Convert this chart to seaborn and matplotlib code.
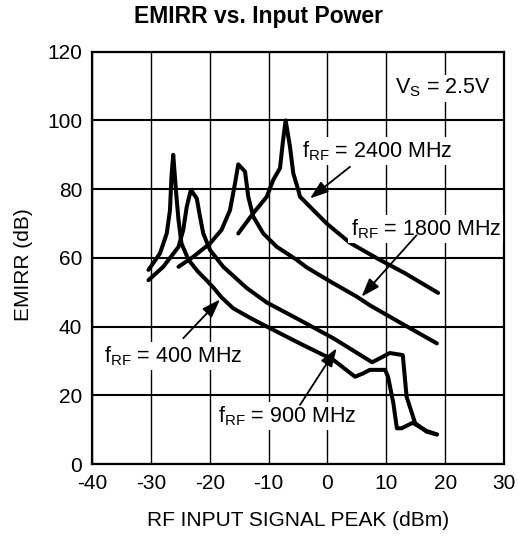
import matplotlib
matplotlib.use('Agg')
import matplotlib.pyplot as plt
import seaborn as sns
import pandas as pd

# ---------------- data ----------------
x_400 = [-30.4, -28.45, -27.3, -26.75, -26.5, -26.2, -25.7, -25.3, -24.8, -23.6, -22.0, -20.5,
         -19.4, -18.0, -16.0, -13.0, -10.3, -4.7, 1.0, 4.7, 6.1, 7.2, 9.8, 10.3, 11.2, 11.8,
         12.6, 14.5, 16.85, 18.6]
y_400 = [56.5, 61.3, 67.1, 73.9, 83.6, 90.0, 78.8, 71.0, 64.2, 59.4, 56.0, 53.4,
         51.4, 48.5, 45.3, 42.4, 40.0, 35.1, 30.3, 25.4, 26.4, 27.4, 27.4, 25.4, 17.7, 10.4,
         10.4, 12.0, 9.6, 8.6]

x_900 = [-30.4, -27.9, -25.3, -24.5, -23.9, -23.2, -22.2, -21.65, -21.1, -19.95, -17.7,
         -13.7, -10.3, -4.7, 1.0, 7.6, 10.6, 12.8, 13.45, 14.9, 16.85, 18.6]
y_900 = [53.5, 57.4, 63.2, 68.1, 74.9, 79.8, 77.3, 72.0, 67.1, 62.3, 57.4,
         51.2, 47.0, 41.9, 36.6, 29.6, 32.3, 31.7, 19.6, 11.9, 9.4, 8.6]

x_1800 = [-25.3, -22.8, -19.95, -18.0, -16.55, -15.7, -15.15, -14.0, -13.45, -12.6, -10.9,
          -8.6, -5.2, -3.5, 0.7, 5.0, 7.2, 12.3, 18.6]
y_1800 = [57.4, 60.3, 64.2, 68.1, 73.9, 81.7, 87.2, 85.1, 77.8, 72.0, 67.1,
          63.2, 59.4, 57.2, 52.9, 48.7, 46.2, 41.2, 35.1]

x_2400 = [-15.15, -12.6, -10.3, -9.2, -8.06, -7.6, -7.1, -6.36, -5.8, -4.95, -4.66, -2.4,
          -0.13, 3.8, 8.5, 13.2, 18.8]
y_2400 = [67.1, 73.0, 77.8, 82.7, 86.1, 93.3, 100.0, 92.3, 84.6, 79.7, 77.8, 73.9,
          70.0, 64.4, 59.8, 55.5, 49.8]

series_names = ['400 MHz', '900 MHz', '1800 MHz', '2400 MHz']
x_ticks = [-40, -30, -20, -10, 0, 10, 20, 30]
y_ticks = [0, 20, 40, 60, 80, 100, 120]

title = 'EMIRR vs. Input Power'
xlabel = 'RF INPUT SIGNAL PEAK (dBm)'
ylabel = 'EMIRR (dB)'

# ---------------- build table ----------------
frames = []
for name, xs, ys in zip(series_names, [x_400, x_900, x_1800, x_2400],
                        [y_400, y_900, y_1800, y_2400]):
    frames.append(pd.DataFrame({'x': xs, 'y': ys, 'series': name,
                                'order': range(len(xs))}))
df = pd.concat(frames, ignore_index=True)

# ---------------- style ----------------
sns.set_theme(style='white')
plt.rcParams['font.family'] = ['Liberation Sans', 'DejaVu Sans']
plt.rcParams['mathtext.fontset'] = 'custom'
plt.rcParams['mathtext.rm'] = 'Liberation Sans'
plt.rcParams['mathtext.it'] = 'Liberation Sans:italic'
plt.rcParams['mathtext.bf'] = 'Liberation Sans:bold'
plt.rcParams['axes.unicode_minus'] = False
plt.rcParams['text.color'] = 'black'
plt.rcParams['axes.labelcolor'] = 'black'
plt.rcParams['xtick.color'] = 'black'
plt.rcParams['ytick.color'] = 'black'

fig = plt.figure(figsize=(5.18, 5.38), dpi=100)
ax = fig.add_axes([92 / 518, 74 / 538, 412 / 518, 412.3 / 538])

sns.lineplot(data=df, x='x', y='y', hue='series', hue_order=series_names,
             palette=['black'] * 4, estimator=None, sort=False, legend=False,
             linewidth=2.9, ax=ax, solid_joinstyle='round', solid_capstyle='round')

ax.set_xlim(-40, 30)
ax.set_ylim(0, 120)
ax.set_xticks(x_ticks)
ax.set_yticks(y_ticks)
ax.set_xticklabels([str(t) for t in x_ticks])
ax.set_yticklabels([str(t) for t in y_ticks])
ax.tick_params(length=0, labelsize=15, pad=7, colors='black')

ax.set_axisbelow(True)
ax.xaxis.grid(True, color='black', linewidth=1.0)
ax.yaxis.grid(True, color='black', linewidth=1.5)
for sp in ax.spines.values():
    sp.set_color('black')
    sp.set_linewidth(1.6)

ax.set_xlabel(xlabel, fontsize=15, color='black')
ax.set_ylabel(ylabel, fontsize=15, color='black')
ax.xaxis.set_label_coords(0.5, -0.115)
ax.yaxis.set_label_coords(-0.143, 0.483)

fig.text(0.5, 1 - 17 / 538, title, ha='center', va='center',
         fontsize=16.5, fontweight='bold', color='black')

# ---------------- annotations ----------------
box = dict(facecolor='white', edgecolor='none', pad=1.5)
ax.text(19.6, 109.4, r'V$_{\mathrm{S}}$ = 2.5V', fontsize=15.5, ha='center', va='center',
        bbox=box, zorder=5)

labels = [
    (r'f$_{\mathrm{RF}}$ = 2400 MHz', (8.5, 91.1), (3.83, 86.5), (-2.96, 77.3)),
    (r'f$_{\mathrm{RF}}$ = 1800 MHz', (16.7, 68.4), (15.15, 66.6), (5.8, 48.7)),
    (r'f$_{\mathrm{RF}}$ = 400 MHz', (-26.3, 31.4), (-24.5, 36.6), (-18.25, 47.9)),
    (r'f$_{\mathrm{RF}}$ = 900 MHz', (-6.9, 14.0), (-4.66, 17.2), (1.57, 33.7)),
]
for txt, pos, tail, tip in labels:
    ax.text(pos[0], pos[1], txt, fontsize=15.5, ha='center', va='center',
            bbox=box, zorder=5)
    ax.annotate('', xy=tip, xytext=tail,
                arrowprops=dict(arrowstyle='-|>,head_length=0.8,head_width=0.28',
                                color='black', lw=1.3, mutation_scale=14,
                                shrinkA=0, shrinkB=0), zorder=6)

fig.savefig('out.png', dpi=100)
